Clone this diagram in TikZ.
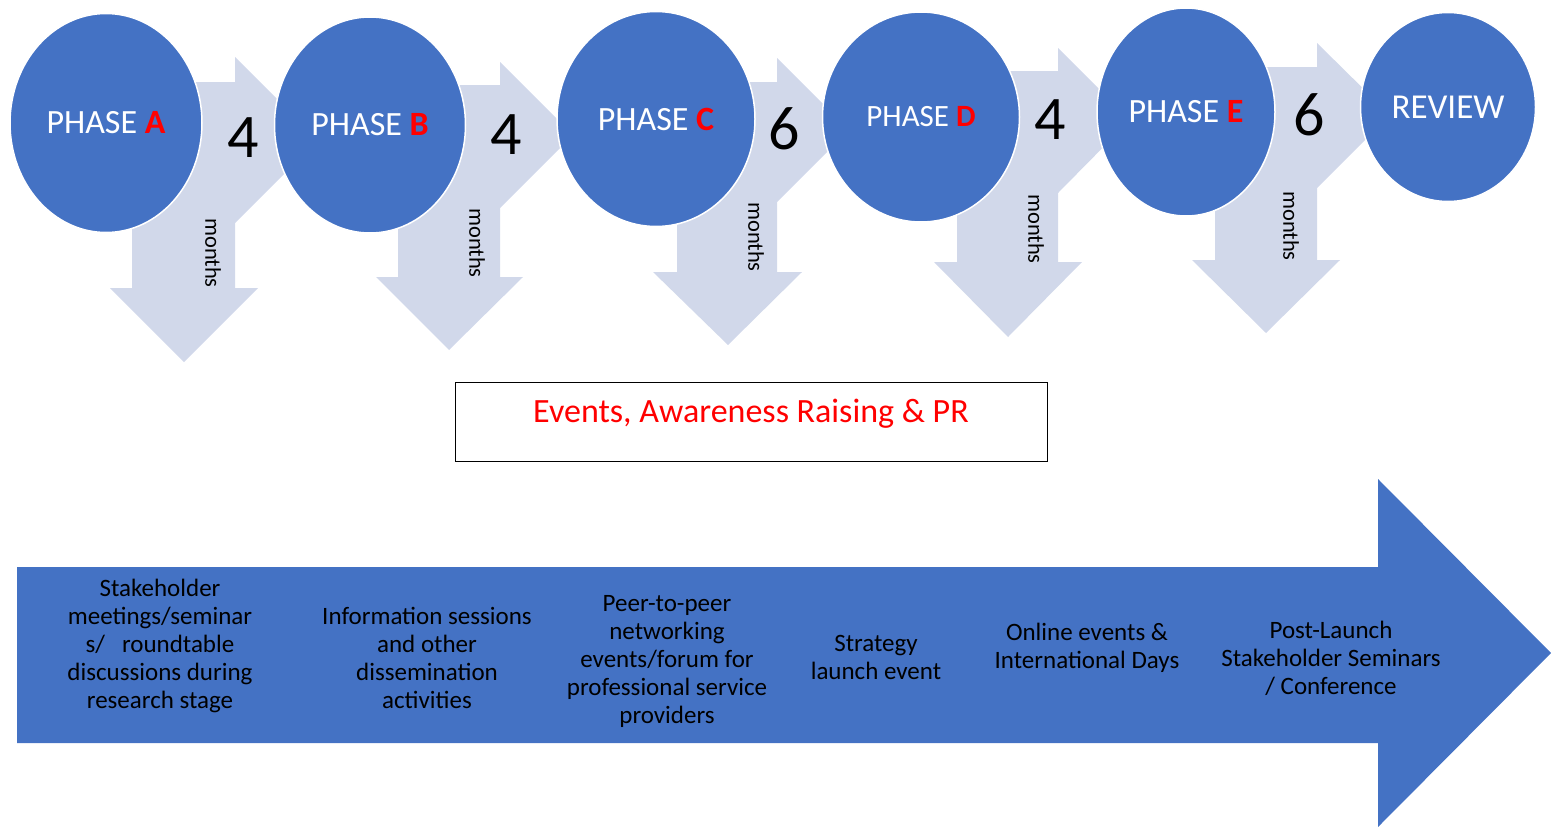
\documentclass[tikz,border=0pt]{standalone}
\usepackage{fontspec}
\setmainfont{Carlito}
\usetikzlibrary{shapes.geometric}
\definecolor{phaseblue}{HTML}{4472C4}
\definecolor{steplilac}{HTML}{D1D8EA}

\begin{document}
\begin{tikzpicture}[x=1pt,y=-1pt,
	phase/.style={ellipse,fill=phaseblue,draw=white,line width=1.5pt,text=white,inner sep=0pt,font=\fontsize{34}{40}\selectfont},
	count/.style={font=\fontsize{62}{70}\selectfont},
	months/.style={rotate=-90,font=\fontsize{22.5}{26}\selectfont},
	activity/.style={align=center,font=\fontsize{25}{28}\selectfont},
	evbox/.style={draw,line width=0.8pt,minimum width=592pt,minimum height=79pt,inner sep=0pt}]
		\useasboundingbox (0,0) rectangle (1551,827);
		\fill[steplilac] (150,82)--(235,82)--(235,57)--(318,140)--(235,223)--(235,198)--(150,198)--cycle;
		\fill[steplilac] (132,150)--(235,150)--(235,288)--(258,288)--(184,362)--(110,288)--(132,288)--cycle;
		\fill[steplilac] (420,85)--(500,85)--(500,62)--(573,135)--(500,208)--(500,185)--(420,185)--cycle;
		\fill[steplilac] (398,150)--(500,150)--(500,277)--(523,277)--(449,350)--(376,277)--(398,277)--cycle;
		\fill[steplilac] (700,82)--(777,82)--(777,58)--(849,130)--(777,202)--(777,178)--(700,178)--cycle;
		\fill[steplilac] (677,150)--(777,150)--(777,272)--(802,272)--(728,345)--(653,272)--(677,272)--cycle;
		\fill[steplilac] (980,71)--(1058,71)--(1058,48)--(1130,120)--(1058,193)--(1058,169)--(980,169)--cycle;
		\fill[steplilac] (957,140)--(1058,140)--(1058,262)--(1082,262)--(1008,337)--(934,262)--(957,262)--cycle;
		\fill[steplilac] (1230,67)--(1317,67)--(1317,43)--(1390,115)--(1317,188)--(1317,163)--(1230,163)--cycle;
		\fill[steplilac] (1215,140)--(1317,140)--(1317,260)--(1340,260)--(1266,333)--(1192,260)--(1215,260)--cycle;
		\node[count] (na) at (243,138) {4};
		\node[count] (nb) at (506,135) {4};
		\node[count] (nc) at (784,129) {6};
		\node[count] (nd) at (1050,120) {4};
		\node[count] (ne) at (1309,115) {6};
		\node[months] (ma) at (213,253) {months};
		\node[months] (mb) at (477,243) {months};
		\node[months] (mc) at (756,237) {months};
		\node[months] (md) at (1036,229) {months};
		\node[months] (me) at (1291,226) {months};
		\node[phase,minimum width=192pt,minimum height=219pt] (pa) at (106,123) {PHASE \textbf{\color{red}A}};
		\node[phase,minimum width=191pt,minimum height=216pt] (pb) at (370,125) {PHASE \textbf{\color{red}B}};
		\node[phase,minimum width=198pt,minimum height=215pt] (pc) at (656,119) {PHASE \textbf{\color{red}C}};
		\node[phase,minimum width=197pt,minimum height=210pt,font=\fontsize{31}{36}\selectfont] (pd) at (921,117) {PHASE \textbf{\color{red}D}};
		\node[phase,minimum width=178pt,minimum height=208pt] (pe) at (1186,112) {PHASE \textbf{\color{red}E}};
		\node[phase,minimum width=175pt,minimum height=189pt,font=\fontsize{35}{40}\selectfont] (rv) at (1448,107) {REVIEW};
		\node[evbox] (ev) at (751,421.5) {};
		\node[anchor=base,text=red,font=\fontsize{34}{40}\selectfont] (evt) at (751,422) {Events, Awareness Raising \& PR};
		\fill[phaseblue] (17,567)--(1378,567)--(1378,479)--(1551,653)--(1378,827)--(1378,743)--(17,743)--cycle;
		\node[activity] (t1) at (160,646) {Stakeholder\\meetings/seminar\\s/\ \ \ roundtable\\discussions during\\research stage};
		\node[activity] (t2) at (427,658) {Information sessions\\and other\\dissemination\\activities};
		\node[activity] (t3) at (667,661) {Peer-to-peer\\networking\\events/forum for\\professional service\\providers};
		\node[activity] (t4) at (876,657) {Strategy\\launch event};
		\node[activity] (t5) at (1087,648) {Online events \&\\International Days};
		\node[activity] (t6) at (1331,658) {Post-Launch\\Stakeholder Seminars\\/ Conference};
	\end{tikzpicture}
\end{document}
